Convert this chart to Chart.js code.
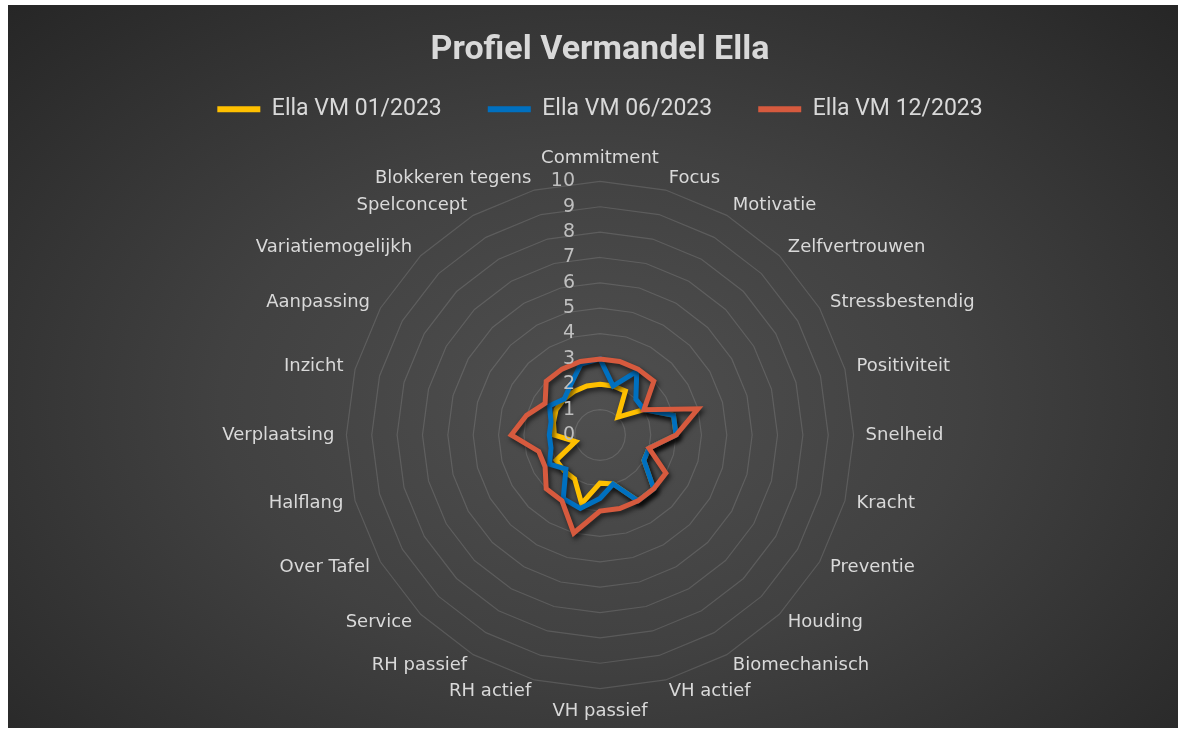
<!DOCTYPE html>
<html>
<head>
<meta charset="utf-8">
<script src="https://cdn.jsdelivr.net/npm/chart.js@4.4.1/dist/chart.umd.min.js"></script>
<style>
    html, body { margin: 0; padding: 0; background: #ffffff; }
    #wrap {
        position: absolute; left: 8px; top: 5px; width: 1170px; height: 723px;
        background: radial-gradient(ellipse farthest-corner at 50% 55%, #4f4f4f 0%, #414141 45%, #262626 100%);
    }
</style>
</head>
<body>
<div id="wrap"><canvas id="chart"></canvas></div>
<script>
// categories round the radar, clockwise from the top
const categories = [
    'Commitment', 'Focus', 'Motivatie', 'Zelfvertrouwen', 'Stressbestendig', 'Positiviteit',
    'Snelheid', 'Kracht', 'Preventie', 'Houding', 'Biomechanisch', 'VH actief',
    'VH passief', 'RH actief', 'RH passief', 'Service', 'Over Tafel', 'Halflang',
    'Verplaatsing', 'Inzicht', 'Aanpassing', 'Variatiemogelijkh', 'Spelconcept', 'Blokkeren tegens'
];
const tickLabels = ['0', '1', '2', '3', '4', '5', '6', '7', '8', '9', '10'];

const seriesNames = ['Ella VM 01/2023', 'Ella VM 06/2023', 'Ella VM 12/2023'];
const ella012023 = [2, 2, 2, 1, 2, 3, 3, 2, 2, 3, 3, 2, 1.9, 2.8, 2, 2, 2, 1, 1.8, 1.9, 2, 2, 2, 2];
const ella062023 = [3, 2, 2.9, 2, 2, 3, 3, 2, 2, 3, 3, 2, 2.5, 3, 2.9, 1.9, 2.3, 2, 2, 2, 2.3, 2, 2.3, 2.9];
const ella122023 = [3, 3, 3, 3, 2, 4, 3, 2, 3, 3, 3, 3, 3, 4, 3, 3, 2.5, 2.5, 3.5, 3, 2.5, 3, 3, 3];
const seriesColors = ['#FFC000', '#0070C0', '#D65A3E'];

const textColor = '#d9d9d9';

// extra room between the legend and the radar
const legendGap = {
    id: 'legendGap',
    afterInit(chart) {
        const legend = chart.legend;
        if (!legend) return;
        const fit = legend.fit;
        legend.fit = function () {
            fit.call(this);
            this.height += 17;
        };
    },
    // Excel centres the category labels on their spoke, Chart.js hangs them above / below
    afterLayout(chart) {
        const scale = chart.scales.r;
        const items = scale._pointLabelItems || [];
        const n = items.length;
        items.forEach((item, i) => {
            const angle = i * 360 / n;
            const h = item.bottom - item.top;
            let dy = 0;
            if ((angle > 0 && angle < 90) || angle > 270) dy = h / 2;
            else if (angle > 90 && angle < 270 && angle !== 180) dy = -h / 2;
            item.y += dy;
            item.top += dy;
            item.bottom += dy;
        });
    }
};

// drop shadow under the series lines
const lineShadow = {
    id: 'lineShadow',
    beforeDatasetsDraw(chart) {
        const ctx = chart.ctx;
        ctx.save();
        ctx.shadowColor = 'rgba(0, 0, 0, 0.65)';
        ctx.shadowBlur = 5;
        ctx.shadowOffsetX = 2;
        ctx.shadowOffsetY = 3;
    },
    afterDatasetsDraw(chart) {
        chart.ctx.restore();
    }
};

// value labels to the left of the vertical axis, on top of the lines
const tickText = {
    id: 'tickText',
    afterDatasetsDraw(chart) {
        const scale = chart.scales.r;
        const ctx = chart.ctx;
        ctx.save();
        ctx.font = '19px "DejaVu Sans"';
        ctx.fillStyle = '#bfbfbf';
        ctx.textAlign = 'right';
        ctx.textBaseline = 'middle';
        tickLabels.forEach(t => {
            const d = scale.getDistanceFromCenterForValue(Number(t));
            ctx.fillText(t, scale.xCenter - 25, scale.yCenter - d);
        });
        ctx.restore();
    }
};

const allSeries = [ella012023, ella062023, ella122023];

new Chart(document.getElementById('chart'), {
    type: 'radar',
    data: {
        labels: categories,
        datasets: allSeries.map((values, i) => ({
            label: seriesNames[i],
            data: values,
            borderColor: seriesColors[i],
            backgroundColor: seriesColors[i],
            borderWidth: 5,
            fill: false,
            tension: 0,
            pointRadius: 0,
            pointHoverRadius: 0,
            order: 3 - i
        }))
    },
    options: {
        responsive: true,
        maintainAspectRatio: false,
        animation: false,
        layout: { padding: { left: 14, right: 0, top: 0, bottom: 4 } },
        plugins: {
            title: {
                display: true,
                text: 'Profiel Vermandel Ella',
                color: textColor,
                font: { family: '"Liberation Sans Narrow", "Roboto", sans-serif', size: 34, weight: 'bold' },
                padding: { top: 25, bottom: -19 }
            },
            legend: {
                display: true,
                position: 'top',
                labels: {
                    color: textColor,
                    font: { family: '"Liberation Sans Narrow", "Roboto", sans-serif', size: 23 },
                    boxWidth: 43,
                    boxHeight: 6,
                    padding: 46,
                    generateLabels(chart) {
                        return seriesNames.map((name, i) => ({
                            text: name,
                            fillStyle: seriesColors[i],
                            strokeStyle: seriesColors[i],
                            lineWidth: 0,
                            fontColor: textColor,
                            datasetIndex: i,
                            hidden: false
                        }));
                    }
                }
            },
            tooltip: { enabled: false }
        },
        scales: {
            r: {
                min: 0,
                max: 10,
                ticks: { stepSize: 1, display: false },
                grid: { color: 'rgba(255, 255, 255, 0.13)', lineWidth: 1.2 },
                angleLines: { display: false },
                pointLabels: {
                    color: textColor,
                    font: { family: '"DejaVu Sans"', size: 18 },
                    padding: 12
                }
            }
        }
    },
    plugins: [legendGap, lineShadow, tickText]
});
</script>
</body>
</html>
